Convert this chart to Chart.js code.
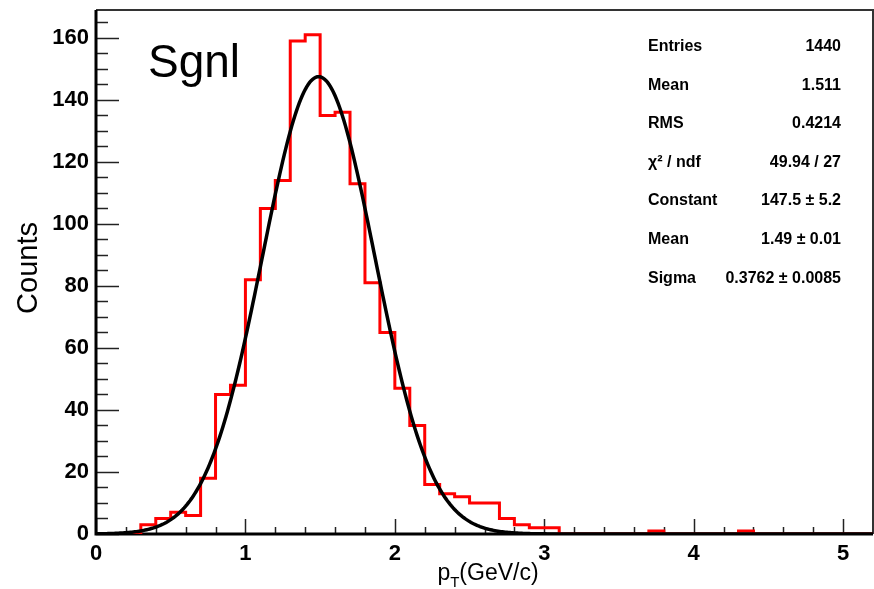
<!DOCTYPE html>
<html lang="en">
<head>
    <meta charset="UTF-8">
    <title>Sgnl pT spectrum</title>
    <script src="https://cdn.jsdelivr.net/npm/chart.js"></script>
    <style>
        body { margin: 0; background: #fff; }
        .chart-container { position: relative; width: 874px; height: 589px; }
    </style>
</head>
<body>
    <div class="chart-container">
        <canvas id="ptChart" width="874" height="589"></canvas>
    </div>

    <script>
        // Histogram: 52 bins of 0.1 GeV/c from 0 to 5.2
        const binWidth = 0.1;
        const xMin = 0;
        const xMax = 5.2;
        const counts = [
            0, 0, 0, 3, 5, 7, 6, 18, 45, 48,
            82, 105, 114, 159, 161, 135, 136, 113, 81, 65,
            47, 35, 16, 13, 12, 10, 10, 5, 3, 2,
            2, 0, 0, 0, 0, 0, 0, 1, 0, 0,
            0, 0, 0, 1, 0, 0, 0, 0, 0, 0,
            0, 0
        ];

        // Gaussian fit parameters
        const fitConstant = 147.5;
        const fitMean = 1.49;
        const fitSigma = 0.3762;

        const yMax = 169;
        const yMajorTicks = [0, 20, 40, 60, 80, 100, 120, 140, 160];
        const xMajorTicks = [0, 1, 2, 3, 4, 5];

        const statLabels = ['Entries', 'Mean', 'RMS', 'χ² / ndf', 'Constant', 'Mean', 'Sigma'];
        const statValues = ['1440', '1.511', '0.4214', '49.94 / 27', '147.5 ± 5.2', '1.49 ± 0.01', '0.3762 ± 0.0085'];

        // step outline through the bin low edges, closed at the upper edge
        const histPoints = counts.map((c, i) => ({ x: xMin + i * binWidth, y: c }));
        histPoints.push({ x: xMax, y: counts[counts.length - 1] });

        // fit function sampled along the axis range
        const fitPoints = [];
        for (let i = 0; i <= 520; i++) {
            const x = xMin + i * (xMax - xMin) / 520;
            const u = (x - fitMean) / fitSigma;
            fitPoints.push({ x: x, y: fitConstant * Math.exp(-0.5 * u * u) });
        }

        const tickFont = { family: '"Liberation Sans", Arial, sans-serif', size: 22, weight: 'bold' };

        // frame + inward ticks, ROOT style
        const framePlugin = {
            id: 'frame',
            beforeDatasetsDraw(chart) {
                const { ctx, chartArea: a, scales: { x, y } } = chart;
                ctx.save();
                ctx.strokeStyle = '#222';
                ctx.lineWidth = 1.5;
                // y ticks: major every 20, minor every 5
                for (let v = 0; v <= yMax; v += 5) {
                    const py = Math.round(y.getPixelForValue(v)) + 0.5;
                    const len = v % 20 === 0 ? 23 : 12;
                    ctx.beginPath();
                    ctx.moveTo(a.left, py);
                    ctx.lineTo(a.left + len, py);
                    ctx.stroke();
                }
                // x ticks: major every 1, minor every 0.2
                for (let k = 0; k <= 26; k++) {
                    const v = k * 0.2;
                    const px = Math.round(x.getPixelForValue(v)) + 0.5;
                    const len = k % 5 === 0 ? 15 : 7;
                    ctx.beginPath();
                    ctx.moveTo(px, a.bottom);
                    ctx.lineTo(px, a.bottom - len);
                    ctx.stroke();
                }
                // top and right edges
                ctx.strokeStyle = '#333';
                ctx.lineWidth = 2;
                ctx.beginPath();
                ctx.moveTo(a.left, a.top);
                ctx.lineTo(a.right, a.top);
                ctx.lineTo(a.right, a.bottom);
                ctx.stroke();
                // axis lines
                ctx.strokeStyle = '#000';
                ctx.lineWidth = 3;
                ctx.beginPath();
                ctx.moveTo(a.left, a.top);
                ctx.lineTo(a.left, a.bottom);
                ctx.lineTo(a.right, a.bottom);
                ctx.stroke();
                ctx.restore();
            },
            afterDraw(chart) {
                const { ctx } = chart;
                ctx.save();
                ctx.fillStyle = '#000';

                // y title
                ctx.save();
                ctx.translate(29, 268);
                ctx.rotate(-Math.PI / 2);
                ctx.font = '29px "Liberation Sans", Arial, sans-serif';
                ctx.textAlign = 'center';
                ctx.textBaseline = 'middle';
                ctx.fillText('Counts', 0, 0);
                ctx.restore();

                // x title with subscript T
                const mainFont = '23px "Liberation Sans", Arial, sans-serif';
                const subFont = '15px "Liberation Sans", Arial, sans-serif';
                ctx.textBaseline = 'alphabetic';
                ctx.textAlign = 'left';
                ctx.font = mainFont;
                const wP = ctx.measureText('p').width;
                const wRest = ctx.measureText('(GeV/c)').width;
                ctx.font = subFont;
                const wT = ctx.measureText('T').width;
                let tx = 488 - (wP + wT + wRest) / 2;
                ctx.font = mainFont;
                ctx.fillText('p', tx, 580);
                tx += wP;
                ctx.font = subFont;
                ctx.fillText('T', tx, 587);
                tx += wT;
                ctx.font = mainFont;
                ctx.fillText('(GeV/c)', tx, 580);

                // sample label
                ctx.font = '46px "Liberation Sans", Arial, sans-serif';
                ctx.fillText('Sgnl', 148, 77);

                // statistics box
                ctx.font = 'bold 16px "Liberation Sans", Arial, sans-serif';
                statLabels.forEach((lab, i) => {
                    const by = 51 + i * 38.6;
                    ctx.textAlign = 'left';
                    ctx.fillText(lab, 648, by);
                    ctx.textAlign = 'right';
                    ctx.fillText(statValues[i], 841, by);
                });
                ctx.restore();
            }
        };

        const ctx = document.getElementById('ptChart').getContext('2d');
        const ptChart = new Chart(ctx, {
            type: 'line',
            data: {
                datasets: [{
                    label: 'Gaussian fit',
                    data: fitPoints,
                    borderColor: '#000',
                    borderWidth: 3.5,
                    pointRadius: 0,
                    tension: 0,
                    order: 0
                }, {
                    label: 'Sgnl',
                    data: histPoints,
                    borderColor: '#ff0000',
                    borderWidth: 3,
                    pointRadius: 0,
                    stepped: 'before',
                    order: 1
                }]
            },
            options: {
                responsive: false,
                animation: false,
                layout: { padding: { top: 10, right: 1, left: 0, bottom: 0 } },
                plugins: {
                    legend: { display: false },
                    tooltip: { enabled: false }
                },
                scales: {
                    x: {
                        type: 'linear',
                        min: xMin,
                        max: xMax,
                        grid: { display: false, drawTicks: false },
                        border: { display: false },
                        afterFit(scale) {
                            scale.height = 55;
                            scale.paddingLeft = 0;
                            scale.paddingRight = 0;
                        },
                        afterBuildTicks(scale) { scale.ticks = xMajorTicks.map(v => ({ value: v })); },
                        ticks: { padding: 7, color: '#000', maxRotation: 0, font: tickFont }
                    },
                    y: {
                        min: 0,
                        max: yMax,
                        grid: { display: false, drawTicks: false },
                        border: { display: false },
                        afterFit(scale) {
                            scale.width = 96;
                            scale.paddingTop = 0;
                            scale.paddingBottom = 0;
                        },
                        afterBuildTicks(scale) { scale.ticks = yMajorTicks.map(v => ({ value: v })); },
                        ticks: { padding: 7, color: '#000', font: tickFont }
                    }
                }
            },
            plugins: [framePlugin]
        });
    </script>
</body>
</html>
